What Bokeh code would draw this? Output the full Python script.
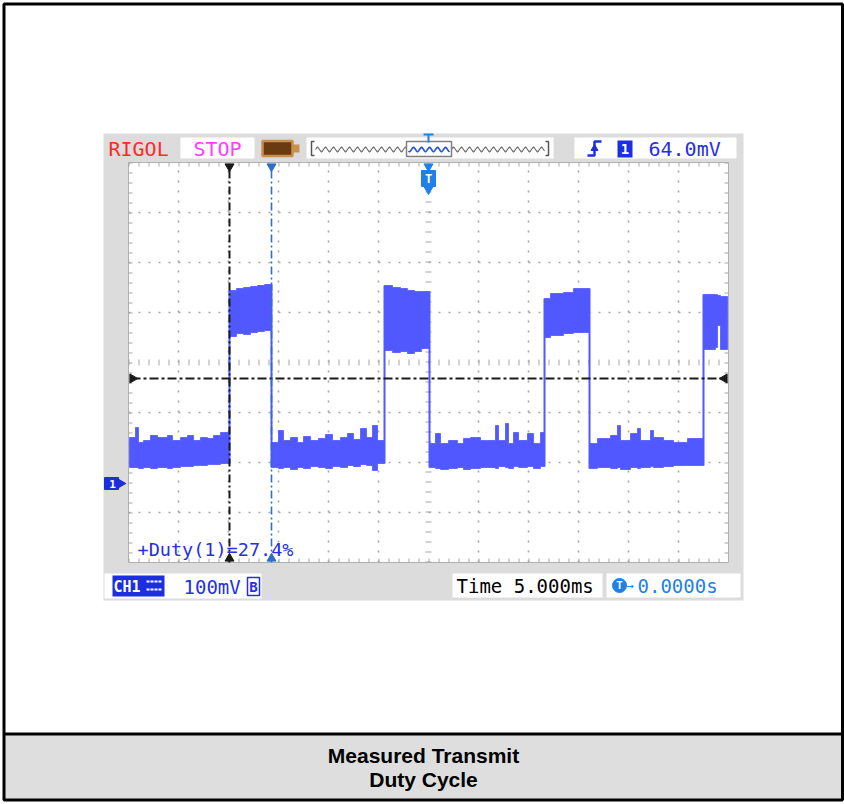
import numpy as np
from bokeh.plotting import figure
from bokeh.models import Range1d
from bokeh.core.properties import value
from bokeh.embed import file_html
from bokeh.resources import INLINE

# ---------------- values ----------------
TIME_DIV_MS = 5.0          # "Time 5.000ms"
VOLT_DIV_MV = 100.0        # "100mV"
N_HDIV = 12
N_VDIV = 8
SCREEN_CENTER_MV = 242.0   # level of the middle graticule line (ground marker 2.42 div lower)
GROUND_MV = 0.0
TRIGGER_POS_MS = 0.0
REF_LEVEL_MV = 210.0       # horizontal dash-dot reference line
CURSOR_A_MS = -19.9        # black measurement cursor
CURSOR_B_MS = -15.7        # blue measurement cursor

# noisy PWM trace: start of each piece (ms), band top and band bottom (mV)
trace_t = [-29.9, -29.3, -29.0, -28.5, -27.8, -27.1, -26.1, -25.6, -24.8, -24.1, -23.5, -22.8, -22.1, -21.5, -20.8,
           -19.9, -19.2, -18.5, -17.8, -17.1, -16.4,
           -15.7, -15.0, -14.5, -13.8, -13.1, -12.5, -11.8, -11.0, -10.3, -9.6, -8.8, -8.1, -7.5, -6.8, -6.2, -5.6, -5.1,
           -4.4, -3.6, -2.8, -2.1, -1.4, -0.7,
           0.1, 0.7, 1.2, 2.0, 2.9, 3.5, 4.2, 5.2, 5.9, 6.7, 7.0, 7.7, 8.0, 8.5, 9.0, 9.9, 10.5, 11.2,
           11.6, 12.2, 13.5, 14.5,
           16.1, 16.9, 18.2, 18.9, 19.2, 20.2, 20.9, 21.2, 22.2, 22.5, 23.5, 24.5, 25.9,
           27.5, 28.7, 28.9, 29.2]
trace_top = [92, 112, 82, 86, 96, 92, 96, 86, 92, 96, 86, 92, 90, 96, 102,
             386, 390, 392, 394, 396, 398,
             82, 106, 86, 92, 82, 94, 86, 90, 98, 86, 92, 100, 88, 110, 92, 116, 86,
             396, 392, 390, 386, 384, 384,
             80, 100, 80, 86, 80, 90, 92, 86, 86, 116, 86, 120, 80, 102, 86, 100, 80, 102,
             370, 380, 382, 390,
             80, 90, 96, 116, 86, 100, 110, 86, 106, 92, 86, 82, 90,
             378, 378, 376, 374]
trace_bot = [32, 32, 30, 32, 30, 32, 30, 32, 34, 34, 36, 36, 38, 38, 40,
             294, 300, 298, 302, 304, 306,
             32, 30, 32, 28, 32, 30, 34, 32, 30, 34, 32, 36, 34, 38, 36, 26, 40,
             266, 262, 264, 260, 264, 270,
             32, 30, 28, 30, 32, 28, 30, 32, 32, 30, 34, 32, 30, 34, 32, 34, 30, 34,
             292, 296, 300, 302,
             30, 32, 30, 32, 28, 32, 30, 32, 34, 32, 34, 36, 36,
             268, 272, 316, 268]
TRACE_END_MS = 29.9
edge_t = [-19.9, -15.7, -4.4, 0.1, 11.6, 16.1, 27.5]

caption_lines = ["Measured Transmit", "Duty Cycle"]
duty_text = "+Duty(1)=27.4%"
trig_level_text = "64.0mV"
vdiv_text = "100mV"
tdiv_text = "Time 5.000ms"
tpos_text = "0.0000s"

# ---------------- page geometry (reference pixels) ----------------
X0, X1, Y0, Y1 = 0, 844, 0, 804
GL, GR, GT, GB = 128, 728, 162, 562            # graticule box
px_ms = (GR - GL) / (N_HDIV * TIME_DIV_MS)
px_mv = (GB - GT) / (N_VDIV * VOLT_DIV_MV)
t_lo = -N_HDIV / 2 * TIME_DIV_MS
t_hi = N_HDIV / 2 * TIME_DIV_MS
v_hi = SCREEN_CENTER_MV + N_VDIV / 2 * VOLT_DIV_MV
v_lo = SCREEN_CENTER_MV - N_VDIV / 2 * VOLT_DIV_MV

p = figure(width=X1 - X0, height=Y1 - Y0,
           x_range=Range1d(X0, X1), y_range=Range1d(Y1, Y0),
           x_axis_location=None, y_axis_location=None,
           toolbar_location=None, output_backend="svg", min_border=0,
           outline_line_color=None, background_fill_color="white", border_fill_color="white")
p.grid.visible = False
p.extra_x_ranges = {"t": Range1d(t_lo - (GL - X0) / px_ms, t_hi + (X1 - GR) / px_ms)}
p.extra_y_ranges = {"v": Range1d(v_lo - (Y1 - GB) / px_mv, v_hi + (GT - Y0) / px_mv)}

BLUE = "#2430E8"
TRACE = "#5158FF"
LBLUE = "#1E80E8"
MONO = value("DejaVu Sans Mono")


def box(l, r, t, b, fill=None, line=None, lw=1.0):
    p.quad(left=[l], right=[r], top=[t], bottom=[b],
           fill_color=fill, fill_alpha=1.0 if fill else 0.0,
           line_color=line, line_width=lw)


def txt(x, y, s, size, color, font=MONO, style="normal", align="left", xr="default", yr="default"):
    p.text(x=[x], y=[y], text=[s], text_font=font, text_font_size=size, text_font_style=style,
           text_color=color, text_align=align, text_baseline="middle",
           x_range_name=xr, y_range_name=yr)


# page frame and caption band
box(3.5, 842, 733.5, 799.5, fill="#DEDEDE")
p.segment(x0=[3.5], y0=[733.5], x1=[842], y1=[733.5], line_color="black", line_width=3)
box(3.5, 842, 3.5, 799.5, line="black", lw=3)
for i, s in enumerate(caption_lines):
    txt(423, 755 + 24 * i, s, "21px", "black", font=value("Liberation Sans"), style="bold", align="center")

# scope screen
box(103, 743, 133, 600, fill="#DCDCDC")
box(GL, GR, GT, GB, fill="white", line="#B0B0B0", lw=1)

# graticule (in time / voltage units)
gx = [t_lo + k * TIME_DIV_MS for k in range(1, N_HDIV) if k != N_HDIV // 2]
gy = [v_lo + k * VOLT_DIV_MV for k in range(1, N_VDIV) if k != N_VDIV // 2]
p.segment(x0=gx, y0=[v_lo] * len(gx), x1=gx, y1=[v_hi] * len(gx), x_range_name="t", y_range_name="v",
          line_color="#A6A6A6", line_width=1.6, line_dash="2 8")
p.segment(x0=[t_lo] * len(gy), y0=gy, x1=[t_hi] * len(gy), y1=gy, x_range_name="t", y_range_name="v",
          line_color="#A6A6A6", line_width=1.6, line_dash="2 8")
p.segment(x0=[t_lo], y0=[SCREEN_CENTER_MV], x1=[t_hi], y1=[SCREEN_CENTER_MV], x_range_name="t", y_range_name="v",
          line_color="#A6A6A6", line_width=6, line_dash="1 9")
p.segment(x0=[TRIGGER_POS_MS], y0=[v_lo], x1=[TRIGGER_POS_MS], y1=[v_hi], x_range_name="t", y_range_name="v",
          line_color="#A6A6A6", line_width=6, line_dash="1 9")
# edge ticks
p.segment(x0=[GL, GL, GL + 2, GR - 2], y0=[GT + 2, GB - 2, GT, GT],
          x1=[GR, GR, GL + 2, GR - 2], y1=[GT + 2, GB - 2, GB, GB],
          line_color="#A6A6A6", line_width=4, line_dash="1 9")

# waveform: one stepped band polygon built from the envelope data
lefts = np.array(trace_t, dtype=float)
rights = np.array(trace_t[1:] + [TRACE_END_MS], dtype=float)
top_x = np.column_stack([lefts, rights]).ravel()
top_y = np.repeat(np.array(trace_top, dtype=float), 2)
bot_y = np.repeat(np.array(trace_bot, dtype=float), 2)
p.patch(x=np.concatenate([top_x, top_x[::-1]]), y=np.concatenate([top_y, bot_y[::-1]]),
        x_range_name="t", y_range_name="v", fill_color=TRACE, line_color=TRACE, line_width=0.8)
idx = {t: i for i, t in enumerate(trace_t)}
edge_lo = [min(trace_bot[idx[t] - 1], trace_bot[idx[t]]) for t in edge_t]
edge_hi = [max(trace_top[idx[t] - 1], trace_top[idx[t]]) for t in edge_t]
p.segment(x0=edge_t, y0=edge_lo, x1=edge_t, y1=edge_hi, x_range_name="t", y_range_name="v",
          line_color=TRACE, line_width=2)

# reference level line
p.segment(x0=[t_lo + 0.3], y0=[REF_LEVEL_MV], x1=[t_hi - 0.3], y1=[REF_LEVEL_MV],
          x_range_name="t", y_range_name="v", line_color="#1A1A1A", line_width=2, line_dash="9 3 3 3")
p.scatter(x=[t_lo + 0.4], y=[REF_LEVEL_MV], marker="triangle", angle=-np.pi / 2, size=9,
          x_range_name="t", y_range_name="v", color="#1A1A1A")
p.scatter(x=[t_hi - 0.4], y=[REF_LEVEL_MV], marker="triangle", angle=np.pi / 2, size=9,
          x_range_name="t", y_range_name="v", color="#1A1A1A")

# measurement cursors
for tc, col, lw in ((CURSOR_A_MS, "#1A1A1A", 2), (CURSOR_B_MS, "#2E6FC8", 1.6)):
    p.segment(x0=[tc], y0=[v_lo], x1=[tc], y1=[v_hi], x_range_name="t", y_range_name="v",
              line_color=col, line_width=lw, line_dash="8 3 2 3")
    p.scatter(x=[tc], y=[GT + 4], marker="inverted_triangle", size=9, color=col, x_range_name="t")
    p.scatter(x=[tc], y=[GB - 4], marker="triangle", size=9, color=col, x_range_name="t")

# trigger position marker
p.scatter(x=[TRIGGER_POS_MS], y=[GT + 4], marker="inverted_triangle", size=9, color=LBLUE, x_range_name="t")
p.rect(x=[TRIGGER_POS_MS], y=[178], width=14, height=16, width_units="screen", height_units="screen",
       color=LBLUE, x_range_name="t")
p.scatter(x=[TRIGGER_POS_MS], y=[187], marker="inverted_triangle", size=12, color=LBLUE, x_range_name="t")
txt(TRIGGER_POS_MS, 178, "T", "12px", "white", style="bold", align="center", xr="t")

# channel-1 ground marker
p.rect(x=[111], y=[GROUND_MV], width=14, height=12, width_units="screen", height_units="screen",
       color="#1C2FE0", y_range_name="v")
p.scatter(x=[119], y=[GROUND_MV], marker="triangle", angle=-np.pi / 2, size=11, color="#1C2FE0", y_range_name="v")
txt(112, GROUND_MV, "1", "11px", "white", style="bold", align="center", yr="v")

# measurement readout
txt(137, 549, duty_text, "18.5px", BLUE)

# ---------------- top status bar ----------------
txt(108, 148, "RIGOL", "20px", "#FF2A2A")
box(180, 254, 137, 158, fill="white")
txt(217, 148, "STOP", "20px", "#FF3CFF", align="center")
box(262, 292, 140.5, 155.5, fill="#6A3A12", line="#C8914B", lw=2.5)
box(292, 299, 144, 152, fill="#C8914B")
box(306, 553, 137, 158, fill="white")
p.line(x=[314, 311, 311, 314], y=[141, 141, 155, 155], line_color="#555555", line_width=1.5)
p.line(x=[545, 548, 548, 545], y=[141, 141, 155, 155], line_color="#555555", line_width=1.5)
wave_unit = [0, -1.5, -2.5, -1.5, 0, 1.5, 2.5, 1.5]
wx = np.arange(315, 545)
wy = 149 + np.array(wave_unit * 40)[: len(wx)]
p.line(x=wx, y=wy, line_color="#707070", line_width=1.2)
box(406, 451, 141, 156, fill="white", line="#808080", lw=1.5)
sel = (wx >= 408) & (wx <= 449)
p.line(x=wx[sel], y=wy[sel], line_color="#2050E0", line_width=1.5)
p.segment(x0=[423, 428], y0=[134, 134], x1=[433, 428], y1=[134, 142], line_color=LBLUE, line_width=2)

box(574, 736, 137, 158, fill="white")
p.line(x=[587, 594, 594, 601], y=[155, 155, 141, 141], line_color="#1C2FE0", line_width=2.5)
p.scatter(x=[594], y=[148], marker="triangle", size=7, color="#1C2FE0")
box(617, 632, 140, 157, fill="#1C2FE0")
txt(624.5, 148.5, "1", "14px", "white", style="bold", align="center")
txt(648, 148, trig_level_text, "20px", BLUE)

# ---------------- bottom status bar ----------------
box(104, 261, 573, 598, fill="white")
box(112, 164, 575, 596, fill="#1C2FE0")
txt(113, 586, "CH1", "15px", "white", style="bold")
p.segment(x0=[146, 146], y0=[581, 589], x1=[162, 162], y1=[581, 589], line_color="white", line_width=2,
          line_dash="3 1")
txt(183, 586, vdiv_text, "19px", BLUE)
box(247, 259, 577, 595, fill="white", line=BLUE, lw=1.5)
txt(253, 586, "B", "14px", BLUE, style="bold", align="center")

box(452, 602, 573, 597, fill="white")
txt(456, 585, tdiv_text, "19px", "black")
box(606, 740, 573, 597, fill="white")
p.scatter(x=[619], y=[585], marker="circle", size=14, color=LBLUE)
txt(619, 585, "T", "11px", "white", style="bold", align="center")
txt(626, 585, "→", "12px", LBLUE)
txt(637, 585, tpos_text, "19px", LBLUE)

open("out.html", "w").write(file_html(p, INLINE))
